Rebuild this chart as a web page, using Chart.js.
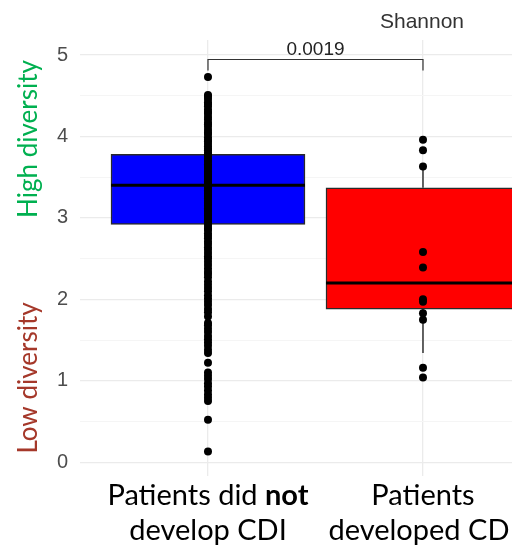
<!DOCTYPE html>
<html>
<head>
<meta charset="utf-8">
<script src="https://cdn.jsdelivr.net/npm/chart.js@4.4.1/dist/chart.umd.min.js"></script>
<style>
  html, body { margin: 0; padding: 0; background: #fff; overflow: hidden; }
  #wrap { position: relative; width: 512px; height: 554px; }
</style>
</head>
<body>
<div id="wrap"><canvas id="c" width="512" height="554"></canvas></div>
<script>
// Shannon diversity by outcome group
const metric = 'Shannon';
const groups = ['Patients did not develop CDI', 'Patients developed CDI'];
const groupLines = [['Patients did not', 'develop CDI'], ['Patients', 'developed CDI']];
const emphasis = 'not';
const groupPos = [1, 2];

// box summaries per group
const boxQ1 = [2.92, 1.88];
const boxMedian = [3.40, 2.20];
const boxQ3 = [3.78, 3.37];
const whiskerLow = [1.66, 1.34];
const whiskerHigh = [4.51, 3.63];
const boxColors = ['#0000ff', '#ff0000'];

// individual samples
const noCdiValues = [4.73,
  4.51, 4.49, 4.46, 4.42, 4.40, 4.37, 4.33, 4.30, 4.28, 4.24, 4.21, 4.17, 4.15, 4.12,
  4.08, 4.05, 4.03, 3.99, 3.96, 3.94, 3.91, 3.88, 3.85, 3.83, 3.80, 3.78, 3.76, 3.73,
  3.71, 3.69, 3.66, 3.64, 3.62, 3.60, 3.57, 3.55, 3.53, 3.51, 3.49, 3.47, 3.45, 3.43,
  3.41, 3.40, 3.38, 3.36, 3.34, 3.32, 3.30, 3.28, 3.26, 3.24, 3.21, 3.19, 3.17, 3.15,
  3.12, 3.10, 3.08, 3.05, 3.03, 3.00, 2.98, 2.95, 2.93, 2.90, 2.87, 2.85, 2.81, 2.78,
  2.75, 2.71, 2.68, 2.64, 2.61, 2.57, 2.53, 2.50, 2.46, 2.42, 2.38, 2.34, 2.31, 2.27,
  2.22, 2.18, 2.14, 2.10, 2.05, 2.01, 1.97, 1.93, 1.88, 1.84, 1.79,
  1.71, 1.68, 1.64, 1.60, 1.55, 1.51, 1.47, 1.43, 1.38, 1.34,
  1.22,
  1.10, 1.06, 1.02, 0.97, 0.93, 0.88, 0.83, 0.79, 0.75,
  0.52, 0.13];
const cdiValues = [3.96, 3.83, 3.63, 2.58, 2.39, 2.00, 1.97, 1.83, 1.75, 1.16, 1.04];

// comparison
const pValue = '0.0019';
const bracketLevel = 4.95;

// axis
const yTicks = [0, 1, 2, 3, 4, 5];
const sideLabels = ['High diversity', 'Low diversity'];
const sideColors = ['#00b050', '#a5382a'];

const labelFont = 'Lato, "Open Sans", sans-serif';
const plotFont = '"Liberation Sans", Arial, sans-serif';

// median bar and whiskers on top of the IQR boxes
const boxPlugin = {
  id: 'boxParts',
  afterDatasetDraw(chart, args) {
    if (args.index !== 0) return;
    const ctx = chart.ctx, y = chart.scales.y, area = chart.chartArea;
    const meta = chart.getDatasetMeta(0);
    ctx.save();
    ctx.beginPath();
    ctx.rect(area.left, area.top, area.right - area.left, area.bottom - area.top);
    ctx.clip();
    meta.data.forEach((el, i) => {
      const half = el.width / 2;
      ctx.strokeStyle = '#333';
      ctx.lineWidth = 1.5;
      ctx.beginPath();
      ctx.moveTo(el.x, y.getPixelForValue(whiskerHigh[i]));
      ctx.lineTo(el.x, y.getPixelForValue(boxQ3[i]));
      ctx.moveTo(el.x, y.getPixelForValue(boxQ1[i]));
      ctx.lineTo(el.x, y.getPixelForValue(whiskerLow[i]));
      ctx.stroke();
      ctx.strokeStyle = '#000';
      ctx.lineWidth = 3;
      ctx.beginPath();
      const my = y.getPixelForValue(boxMedian[i]);
      ctx.moveTo(el.x - half, my);
      ctx.lineTo(el.x + half, my);
      ctx.stroke();
    });
    ctx.restore();
  }
};

// panel title, significance bracket, group labels and side annotations
const textPlugin = {
  id: 'annotations',
  afterDraw(chart) {
    const ctx = chart.ctx, x = chart.scales.x, y = chart.scales.y;
    ctx.save();

    ctx.fillStyle = '#333';
    ctx.font = '21px ' + plotFont;
    ctx.textAlign = 'center';
    ctx.textBaseline = 'alphabetic';
    ctx.fillText(metric, 422, 28);

    const x1 = x.getPixelForValue(groupPos[0]);
    const x2 = x.getPixelForValue(groupPos[1]);
    const by = Math.round(y.getPixelForValue(bracketLevel)) + 0.5;
    ctx.strokeStyle = '#333';
    ctx.lineWidth = 1.2;
    ctx.beginPath();
    ctx.moveTo(x1, by + 11);
    ctx.lineTo(x1, by);
    ctx.lineTo(x2, by);
    ctx.lineTo(x2, by + 11);
    ctx.stroke();
    ctx.fillStyle = '#222';
    ctx.font = '19px ' + plotFont;
    ctx.fillText(pValue, (x1 + x2) / 2, by - 5);

    // group labels, with the emphasised word in bold
    const regular = '29px ' + labelFont;
    const bold = 'bold 29px ' + labelFont;
    ctx.fillStyle = '#000';
    ctx.textAlign = 'left';
    groupLines.forEach((lines, gi) => {
      const cx = x.getPixelForValue(groupPos[gi]);
      lines.forEach((line, li) => {
        const baseY = 505 + li * 34.5;
        const parts = line.split(new RegExp('(\\b' + emphasis + '\\b)'));
        let total = 0;
        const widths = parts.map(p => {
          ctx.font = p === emphasis ? bold : regular;
          const w = ctx.measureText(p).width;
          total += w;
          return w;
        });
        let cur = cx - total / 2;
        parts.forEach((p, pi) => {
          ctx.font = p === emphasis ? bold : regular;
          ctx.fillText(p, cur, baseY);
          cur += widths[pi];
        });
      });
    });

    // rotated side annotations
    ctx.font = '26px ' + labelFont;
    ctx.textAlign = 'center';
    const sideY = [139, 378];
    sideLabels.forEach((t, i) => {
      ctx.save();
      ctx.translate(37, sideY[i]);
      ctx.rotate(-Math.PI / 2);
      ctx.fillStyle = sideColors[i];
      ctx.fillText(t, 0, 0);
      ctx.restore();
    });

    ctx.restore();
  }
};

const gridMajor = '#ebebeb';
const gridMinor = '#f5f5f5';

new Chart(document.getElementById('c').getContext('2d'), {
  type: 'bar',
  data: {
    datasets: [
      {
        type: 'bar',
        label: 'IQR',
        data: groupPos.map((gx, i) => ({ x: gx, y: [boxQ1[i], boxQ3[i]] })),
        backgroundColor: boxColors,
        borderColor: '#2a2a2a',
        borderWidth: 1.5,
        borderSkipped: false,
        barThickness: 194,
        order: 2
      },
      {
        type: 'scatter',
        label: groups[0],
        data: noCdiValues.map(v => ({ x: groupPos[0], y: v })),
        pointRadius: 4,
        pointBackgroundColor: '#000',
        pointBorderWidth: 0,
        order: 1
      },
      {
        type: 'scatter',
        label: groups[1],
        data: cdiValues.map(v => ({ x: groupPos[1], y: v })),
        pointRadius: 4,
        pointBackgroundColor: '#000',
        pointBorderWidth: 0,
        order: 1
      }
    ]
  },
  options: {
    responsive: false,
    animation: false,
    events: [],
    layout: { autoPadding: false, padding: { top: 40, bottom: 78, left: 0, right: 0 } },
    plugins: { legend: { display: false }, tooltip: { enabled: false } },
    scales: {
      x: {
        type: 'linear',
        min: 0.4047,
        max: 2.414,
        offset: false,
        border: { display: false },
        grid: { color: gridMajor, lineWidth: 1.3, drawTicks: false, offset: false },
        ticks: { display: false },
        afterBuildTicks: s => { s.ticks = groupPos.map(v => ({ value: v })); }
      },
      y: {
        type: 'linear',
        min: -0.17,
        max: 5.185,
        border: { display: false },
        grid: {
          drawTicks: false,
          color: c => Number.isInteger(c.tick.value) ? gridMajor : gridMinor,
          lineWidth: c => Number.isInteger(c.tick.value) ? 1.3 : 1
        },
        ticks: {
          padding: 12,
          color: '#4d4d4d',
          font: { family: plotFont, size: 20 },
          callback: v => Number.isInteger(v) ? String(v) : ''
        },
        afterBuildTicks: s => {
          s.ticks = yTicks.flatMap(v => v < yTicks[yTicks.length - 1] ? [{ value: v }, { value: v + 0.5 }] : [{ value: v }]);
        },
        afterFit: s => { s.width = 80; }
      }
    }
  },
  plugins: [boxPlugin, textPlugin]
});
</script>
</body>
</html>
